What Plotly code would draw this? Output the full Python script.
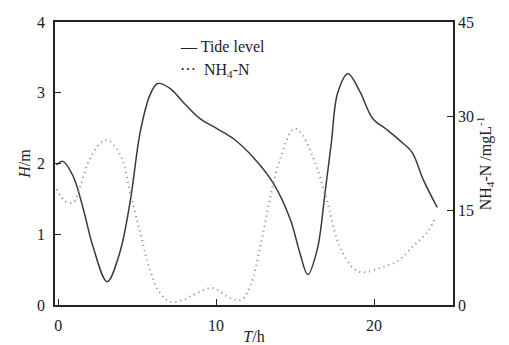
import plotly.graph_objects as go

t_tide = [-0.1, 0.3, 0.95, 1.6, 2.2, 3.1, 3.9, 4.55, 5.2, 5.8, 6.3, 7.1, 7.9, 9.0, 10.0, 11.1, 12.3, 13.6, 14.7, 15.3, 15.8, 16.4, 16.9, 17.3, 17.7, 18.35, 19.1, 19.9, 20.8, 21.6, 22.4, 23.1, 24.0]
tide = [1.98, 2.03, 1.82, 1.35, 0.83, 0.33, 0.74, 1.45, 2.45, 2.96, 3.13, 3.06, 2.87, 2.63, 2.5, 2.35, 2.1, 1.73, 1.21, 0.74, 0.43, 0.78, 1.59, 2.3, 3.0, 3.27, 3.02, 2.64, 2.48, 2.33, 2.16, 1.78, 1.38]

t_nh4 = [-0.1, 0.45, 0.95, 1.4, 2.0, 2.85, 3.3, 4.05, 4.55, 5.2, 5.8, 6.45, 7.1, 7.9, 8.8, 9.8, 10.9, 11.6, 12.15, 12.8, 13.4, 14.05, 14.9, 15.3, 16.1, 17.0, 17.65, 18.0, 18.7, 19.3, 20.4, 21.5, 22.5, 23.35, 23.9]
nh4 = [18.4, 16.5, 16.3, 18.9, 23.2, 26.1, 26.0, 23.2, 17.9, 11.5, 5.6, 1.9, 0.5, 0.8, 1.9, 2.7, 1.1, 0.8, 2.9, 9.3, 16.8, 23.2, 28.0, 27.6, 23.7, 16.8, 10.4, 8.4, 5.8, 5.2, 5.9, 7.0, 9.4, 11.5, 13.9]

x_ticks = [0, 10, 20]
y_ticks = [0, 1, 2, 3, 4]
y2_ticks = [0, 15, 30, 45]

font = dict(family="Liberation Serif", size=16, color="#222")

fig = go.Figure()
fig.add_trace(go.Scatter(x=t_tide, y=tide, mode="lines", name="Tide level",
                         line=dict(color="#3a3a3a", width=1.5, shape="spline", smoothing=1.0), yaxis="y"))
fig.add_trace(go.Scatter(x=t_nh4, y=nh4, mode="lines", name="NH4-N",
                         line=dict(color="#888", width=2, dash="1px,4px", shape="spline", smoothing=1.0), yaxis="y2"))

axis_common = dict(showgrid=False, zeroline=False, showline=True, linecolor="#222", linewidth=1.5,
                   ticks="inside", ticklen=6, tickcolor="#222", tickfont=font, automargin=False)

fig.update_layout(
    width=509, height=345,
    margin=dict(l=55, r=56, t=22, b=40),
    paper_bgcolor="white", plot_bgcolor="white",
    showlegend=False,
    font=font,
    xaxis=dict(range=[-0.2, 25], tickvals=x_ticks, mirror=True, ticklabelstandoff=5,
               title=dict(text="<i>T</i>/h", font=font, standoff=2), **axis_common),
    yaxis=dict(range=[0, 4], tickvals=y_ticks, ticklabelstandoff=5,
               title=dict(text="<i>H</i>/m", font=font, standoff=2), **axis_common),
    yaxis2=dict(range=[0, 45], tickvals=y2_ticks, overlaying="y", side="right",
                title=dict(text="NH<sub>4</sub>-N /mgL<sup>-1</sup>", font=font, standoff=4),
                **axis_common),
    annotations=[
        dict(text="\u2014 Tide level", x=0.31, y=0.915, xref="paper", yref="paper",
             xanchor="left", yanchor="middle", showarrow=False, font=font),
        dict(text="\u00b7\u00b7\u00b7  NH<sub>4</sub>-N", x=0.31, y=0.83, xref="paper", yref="paper",
             xanchor="left", yanchor="middle", showarrow=False, font=font),
    ],
)

fig.write_html("out.html")
